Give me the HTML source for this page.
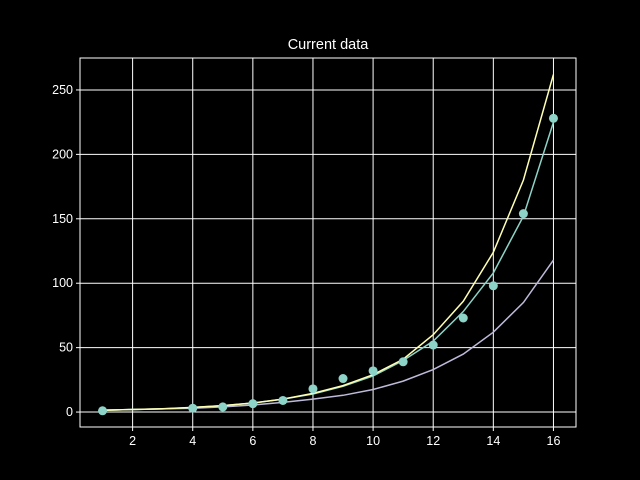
<!DOCTYPE html>
<html><head><meta charset="utf-8"><style>
html,body{margin:0;padding:0;background:#000;width:640px;height:480px;overflow:hidden;}
svg{display:block;}
svg text{font-family:"Liberation Sans","DejaVu Sans",sans-serif;fill:#fff;}
</style></head><body>
<svg id="chart" width="640" height="480" xmlns="http://www.w3.org/2000/svg">
<rect width="640" height="480" fill="#000"/>
<text x="328" y="49" text-anchor="middle" font-size="14.5">Current data</text>
<g id="grid"></g>
<g id="series"></g>
<rect x="80" y="58" width="496" height="369" fill="none" stroke="#fff" stroke-width="1"/>
<g id="ticks"></g>
</svg>
<script>
const xs = [1,2,3,4,5,6,7,8,9,10,11,12,13,14,15,16];
const fitLine = [1.4,2,2.5,3.5,5,7,10,14,20,28,40,55,78,108,152,225];
const upperLine = [1.4,2,2.6,3.6,5,7,10,14.5,20.5,29,41,60,86,124,180,262];
const lowerLine = [1.5,2,2.5,3,4,5.5,7.5,10,13,17.5,24,33,45,62,85,118];
const pointX = [1,4,5,6,7,8,9,10,11,12,13,14,15,16];
const pointY = [1,3,4,6.5,9,18,26,32,39,52,73,98,154,228];
const xTicks = [2,4,6,8,10,12,14,16];
const yTicks = [0,50,100,150,200,250];

const L=80,R=576,T=58,B=427, xmin=0.25,xmax=16.75, ymin=-11.6,ymax=274.8;
const X=v=>L+(v-xmin)/(xmax-xmin)*(R-L);
const Y=v=>B-(v-ymin)/(ymax-ymin)*(B-T);
const NS="http://www.w3.org/2000/svg";
function mk(tag,attrs,parent){const e=document.createElementNS(NS,tag);for(const k in attrs)e.setAttribute(k,attrs[k]);parent.appendChild(e);return e;}
const grid=document.getElementById('grid'),ticks=document.getElementById('ticks'),series=document.getElementById('series');
xTicks.forEach(t=>{
  const g=mk('line',{x1:X(t),x2:X(t),y1:T,y2:B,stroke:'#fff','stroke-width':1},grid);
  
  
  const tk=mk('line',{x1:X(t),x2:X(t),y1:B,y2:B+4,stroke:'#fff'},ticks);
  
  
  const tx=mk('text',{x:X(t),y:B+18,'text-anchor':'middle','font-size':12.5},ticks);
  tx.textContent=t;
  
  
});
yTicks.forEach(t=>{
  const g=mk('line',{x1:L,x2:R,y1:Y(t),y2:Y(t),stroke:'#fff','stroke-width':1},grid);
  
  
  const tk=mk('line',{x1:L-4,x2:L,y1:Y(t),y2:Y(t),stroke:'#fff'},ticks);
  
  
  const tx=mk('text',{x:L-7,y:Y(t)+4,'text-anchor':'end','font-size':12.5},ticks);
  tx.textContent=t;
  
  
});
function line(vals,color,name){
  const p=mk('polyline',{points:xs.map((x,i)=>X(x)+','+Y(vals[i])).join(' '),fill:'none',stroke:color,'stroke-width':1.5},series);
  
  
}
line(lowerLine,'#bebada','lower-line');
line(fitLine,'#8dd3c7','fit-line');
line(upperLine,'#ffffb3','upper-line');
pointX.forEach((x,i)=>{
  const c=mk('circle',{cx:X(x),cy:Y(pointY[i]),r:4.5,fill:'#8dd3c7'},series);
  
  
});
</script>
</body></html>
